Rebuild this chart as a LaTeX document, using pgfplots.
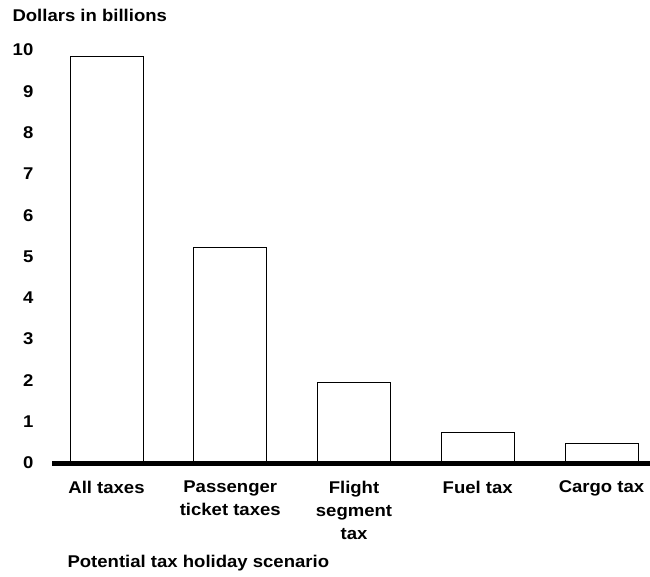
\documentclass[border=0pt]{standalone}
\usepackage{pgfplots}
\pgfplotsset{compat=1.18}
\usepackage{fontspec}
\setmainfont{Liberation Sans}[FakeStretch=1.09]
\begin{document}
\begin{tikzpicture}
\useasboundingbox (0,0) rectangle (650pt,576pt);
\begin{axis}[
  at={(52pt,113pt)}, anchor=south west,
  scale only axis, width=598pt, height=413pt,
  xmin=-0.4404, xmax=4.3919, ymin=0, ymax=10,
  axis on top,
  axis x line=bottom, axis y line=left,
  x axis line style={line width=5pt, -},
  y axis line style={draw=none},
  tick style={draw=none},
  ytick={0,1,...,10},
  xtick={0,1,2,3,4},
  xticklabels={All taxes, Passenger\\ticket taxes, Flight\\segment\\tax, Fuel tax, Cargo tax},
  /pgf/number format/assume math mode=true,
  font={\fontsize{17}{23}\selectfont\bfseries},
  yticklabel style={anchor=east, xshift=-13pt},
  xticklabel style={anchor=north, align=center, yshift=-10pt},
  ylabel={Dollars in billions},
  ylabel style={rotate=-90, at={(rel axis cs:-0.0719,1.0686)}, anchor=base west},
  xlabel={Potential tax holiday scenario},
  xlabel style={at={(rel axis cs:0.0201,-0.254)}, anchor=base west},
  ybar, bar width=0.59, bar shift=0pt,
  clip=false,
]
\addplot[draw=black, fill=white, line width=0.9pt] coordinates {(0,9.85) (1,5.22) (2,1.96) (3,0.75) (4,0.47)};
\end{axis}
\end{tikzpicture}
\end{document}
